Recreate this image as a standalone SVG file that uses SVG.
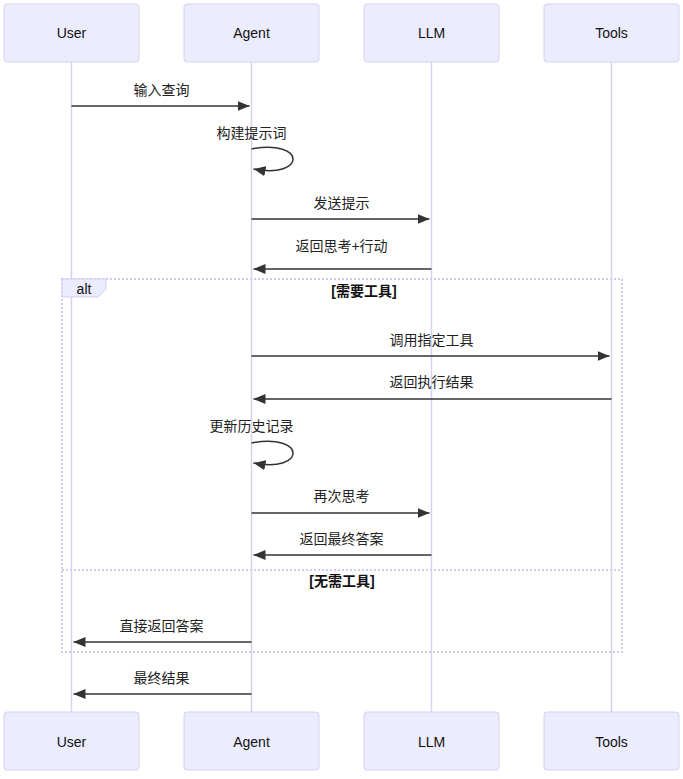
<svg xmlns="http://www.w3.org/2000/svg" width="683" height="779" viewBox="0 0 683 779">
<defs>
<style>
.actor{fill:#ECECFF;stroke:#D6D1F0;stroke-width:1}
.atext{font-family:"Liberation Sans","Noto Sans CJK SC",sans-serif;font-size:14px;fill:#111;text-anchor:middle;dominant-baseline:central}
.life{stroke:#D6D1F0;stroke-width:1.5}
.msg{stroke:#333;stroke-width:1.5;fill:none}
.mtext{font-family:"Liberation Sans","Noto Sans CJK SC",sans-serif;font-size:14px;fill:#222;text-anchor:middle}
.frame{stroke:#CFCBF2;stroke-width:2;stroke-dasharray:2,2;fill:none}
.ltext{font-family:"Liberation Sans","Noto Sans CJK SC",sans-serif;font-size:14px;fill:#111;text-anchor:middle;font-weight:bold}
</style>
<marker id="ah" viewBox="0 0 12 10" refX="12" refY="5" markerWidth="12" markerHeight="10" markerUnits="userSpaceOnUse" orient="auto">
<path d="M0,0 L12,5 L0,10 z" fill="#333"/>
</marker>
</defs>
<rect width="683" height="779" fill="#fff"/>
<g id="lifelines">
<line class="life" x1="71.5" y1="62" x2="71.5" y2="712"/>
<line class="life" x1="251.5" y1="62" x2="251.5" y2="712"/>
<line class="life" x1="431.5" y1="62" x2="431.5" y2="712"/>
<line class="life" x1="611.5" y1="62" x2="611.5" y2="712"/>
</g>
<g id="actor-user-top"><rect class="actor" x="4" y="4" width="135" height="58" rx="3"/><text class="atext" x="71.5" y="33">User</text></g>
<g id="actor-agent-top"><rect class="actor" x="184" y="4" width="135" height="58" rx="3"/><text class="atext" x="251.5" y="33">Agent</text></g>
<g id="actor-llm-top"><rect class="actor" x="364" y="4" width="135" height="58" rx="3"/><text class="atext" x="431.5" y="33">LLM</text></g>
<g id="actor-tools-top"><rect class="actor" x="544" y="4" width="135" height="58" rx="3"/><text class="atext" x="611.5" y="33">Tools</text></g>
<g id="actor-user-bottom"><rect class="actor" x="4" y="712" width="135" height="58" rx="3"/><text class="atext" x="71.5" y="742">User</text></g>
<g id="actor-agent-bottom"><rect class="actor" x="184" y="712" width="135" height="58" rx="3"/><text class="atext" x="251.5" y="742">Agent</text></g>
<g id="actor-llm-bottom"><rect class="actor" x="364" y="712" width="135" height="58" rx="3"/><text class="atext" x="431.5" y="742">LLM</text></g>
<g id="actor-tools-bottom"><rect class="actor" x="544" y="712" width="135" height="58" rx="3"/><text class="atext" x="611.5" y="742">Tools</text></g>
<g id="alt-frame">
<rect class="frame" x="62" y="279" width="560" height="373"/>
<path d="M62,279 L106,279 L106,289 L98,297 L62,297 Z" fill="#ECECFF" stroke="#CFCBF2" stroke-width="1"/>
<text class="ltext" x="84" y="294" style="font-weight:normal">alt</text>
<text class="ltext" x="364" y="296">[需要工具]</text>
<line class="frame" x1="62" y1="570" x2="622" y2="570"/>
<text class="ltext" x="342" y="586">[无需工具]</text>
</g>
<g id="connectors">
<text class="mtext" x="161.5" y="95">输入查询</text>
<line class="msg" x1="71.5" y1="106" x2="249.5" y2="106" marker-end="url(#ah)"/>
<text class="mtext" x="251.5" y="138">构建提示词</text>
<path class="msg" d="M251.5,149 C306.5,139 306.5,179 253.5,169" marker-end="url(#ah)"/>
<text class="mtext" x="341.5" y="208">发送提示</text>
<line class="msg" x1="251.5" y1="219" x2="429.5" y2="219" marker-end="url(#ah)"/>
<text class="mtext" x="341.5" y="251">返回思考+行动</text>
<line class="msg" x1="431.5" y1="269" x2="253.5" y2="269" marker-end="url(#ah)"/>
<text class="mtext" x="431.5" y="345">调用指定工具</text>
<line class="msg" x1="251.5" y1="356" x2="609.5" y2="356" marker-end="url(#ah)"/>
<text class="mtext" x="431.5" y="387">返回执行结果</text>
<line class="msg" x1="611.5" y1="399" x2="253.5" y2="399" marker-end="url(#ah)"/>
<text class="mtext" x="251.5" y="431">更新历史记录</text>
<path class="msg" d="M251.5,443 C306.5,433 306.5,473 253.5,463" marker-end="url(#ah)"/>
<text class="mtext" x="341.5" y="501">再次思考</text>
<line class="msg" x1="251.5" y1="513" x2="429.5" y2="513" marker-end="url(#ah)"/>
<text class="mtext" x="341.5" y="544">返回最终答案</text>
<line class="msg" x1="431.5" y1="555" x2="253.5" y2="555" marker-end="url(#ah)"/>
<text class="mtext" x="161.5" y="631">直接返回答案</text>
<line class="msg" x1="251.5" y1="642" x2="73.5" y2="642" marker-end="url(#ah)"/>
<text class="mtext" x="161.5" y="683">最终结果</text>
<line class="msg" x1="251.5" y1="694" x2="73.5" y2="694" marker-end="url(#ah)"/>
</g>
</svg>
